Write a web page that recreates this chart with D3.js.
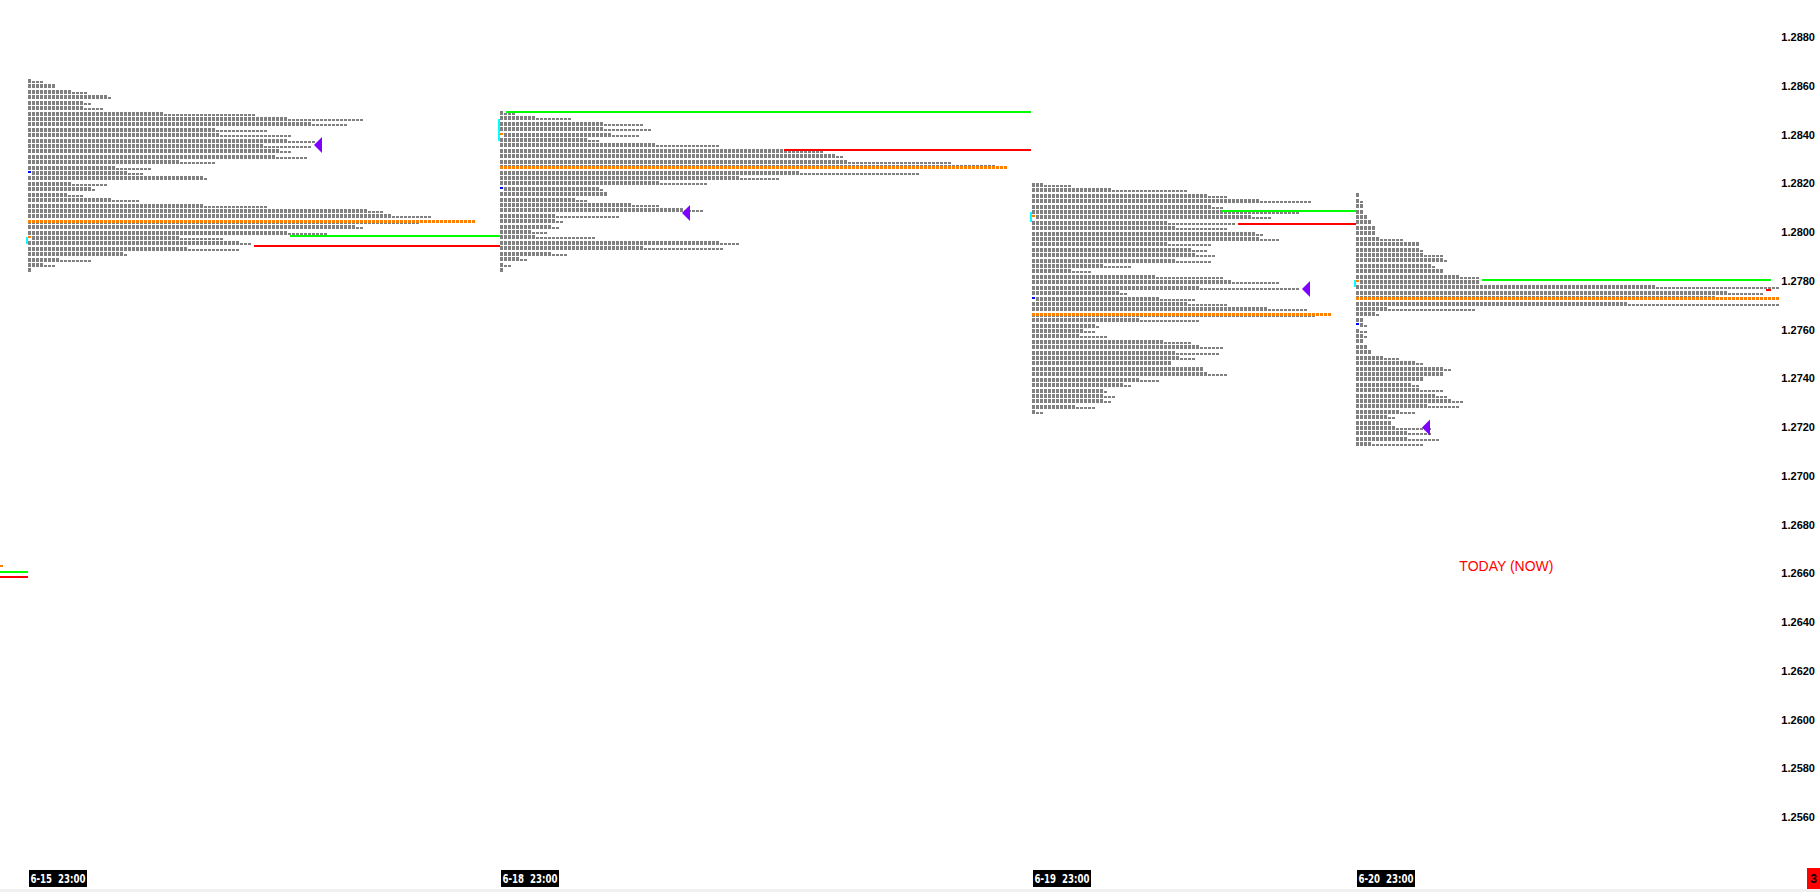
<!DOCTYPE html>
<html><head><meta charset="utf-8">
<script src="https://cdn.jsdelivr.net/npm/d3@7"></script>
<style>html,body{margin:0;padding:0;background:#fff;overflow:hidden}</style>
</head><body>
<svg id="c" width="1820" height="892"></svg>
<script>
// ---------------- DATA ----------------
const priceTicks = [1.2880,1.2860,1.2840,1.2820,1.2800,1.2780,1.2760,1.2740,1.2720,1.2700,1.2680,1.2660,1.2640,1.2620,1.2600,1.2580,1.2560];
const sessionLabels = ["6-15  23:00","6-18  23:00","6-19  23:00","6-20  23:00"];
const sessionStartCol = [7, 125, 258, 339];
const profileTop = [1.28620, 1.28489, 1.28194, 1.28151];
const rowSize = 0.000222;

const p1Full = [1,7,11,20,14,14,34,65,71,47,48,65,59,63,62,38,22,25,44,11,16,10,21,44,85,91,98,82,65,38,53,40,24,8,4,1];
const p1Thin = [3,0,4,1,2,5,23,19,9,13,18,7,12,3,8,9,9,4,1,9,1,4,7,16,4,10,0,2,10,11,3,13,1,8,3,0];
const p2Full = [1,9,26,26,28,22,39,71,84,87,124,75,60,40,25,27,19,33,46,14,14,13,8,9,55,36,13,5,1,1];
const p2Thin = [3,9,10,12,7,3,16,10,2,26,0,30,10,12,1,0,3,7,5,16,2,2,4,15,5,20,4,2,2,0];
const p3Full = [3,20,44,57,45,58,55,34,36,56,57,34,40,41,36,18,10,31,50,42,22,32,39,59,71,27,16,13,12,33,42,36,37,35,43,44,27,23,18,18,18,11,1];
const p3Thin = [7,19,5,13,3,9,5,17,13,2,5,11,4,5,9,7,5,17,12,25,2,9,10,10,0,15,1,3,7,7,6,11,4,0,0,5,5,2,1,3,2,5,2];
const p4Full = [1,1,2,2,3,4,5,5,6,16,16,17,22,19,22,26,31,75,93,90,68,8,5,2,2,1,2,2,3,4,7,15,22,22,17,14,16,20,24,18,11,8,9,10,13,13,4];
const p4Thin = [0,1,0,0,0,0,0,0,6,0,1,5,1,1,0,5,0,31,9,0,38,22,1,0,1,2,1,0,0,0,4,2,2,0,0,2,6,3,3,8,4,2,0,9,6,8,13];

const pocRow = [26, 10, 24, 19];            // 0-based row index of point of control
const pocEndCol = [118.75, 251.75, 332.75, 444.75];
const openMarkRow = [29, 4, 6, 16];        // orange marker rows
const closeMarkRow = [17, 14, 21, 24];     // blue marker rows
const openRangeHigh = [1.27980, 1.28464, 1.28083, 1.27804];
const openRangeLow  = [1.27951, 1.28374, 1.28042, 1.27775];

const greenPrice = [1.26606, 1.27984, 1.28494, 1.28089, 1.27805];
const greenStart = [0, 72.5, 126.5, 305.5, 370.5];
const greenEnd   = [7, 125, 257.75, 339, 442.75];
const redPrice = [1.26586, 1.27943, 1.28337, 1.28032, 1.27764];
const redStart = [0, 63.5, 196, 309.5, 441.5];
const redEnd   = [7, 125, 257.75, 339, 442.75];
const priorPocPrice = 1.26630, priorPocStart = 0, priorPocEnd = 0.75;

const triPrice = [1.28358, 1.28079, 1.27767, 1.27199];
const triCol = [78.5, 170.5, 325.5, 355.5];

const todayText = "TODAY (NOW)";
const todayPrice = 1.26630, todayCol = 376.6;
const cornerLabel = "3";

// ---------------- DRAW ----------------
const profilesFull = [p1Full,p2Full,p3Full,p4Full];
const profilesThin = [p1Thin,p2Thin,p3Thin,p4Thin];

const x = d3.scaleLinear().domain([0,455]).range([0,1820]);
const y = d3.scaleLinear().domain([1.2880,1.2560]).range([37.2,817.2]);
const svg = d3.select('#c');
const g = svg.append('g').attr('shape-rendering','crispEdges');

const GRAY = '#808080', ORANGE = '#ff8000', GREEN = '#00ff00', RED = '#ff0000', PURPLE = '#8000ff', CYAN = '#00ffff', BLUE = '#0000ff';

profilesFull.forEach((full, k) => {
  const thin = profilesThin[k];
  const start = sessionStartCol[k];
  const blocks = [];
  full.forEach((f, i) => {
    const price = profileTop[k] - i*rowSize;
    const skipFirst = (i === openMarkRow[k] || i === closeMarkRow[k]);
    for (let j = 0; j < f; j++) {
      if (j === 0 && skipFirst) continue;
      blocks.push({col: start + j, price, type: 'full'});
    }
    for (let j = f; j < f + thin[i]; j++) blocks.push({col: start + j, price, type: 'thin'});
  });
  g.append('g').selectAll('rect').data(blocks).join('rect')
    .attr('x', d => Math.round(x(d.col)))
    .attr('y', d => d.type === 'full' ? Math.round(y(d.price) - 2) : Math.round(y(d.price)))
    .attr('width', 3)
    .attr('height', d => d.type === 'full' ? 4 : 2)
    .attr('fill', GRAY);

  // POC dashed orange
  const pp = profileTop[k] - pocRow[k]*rowSize;
  const cols = d3.range(start, pocEndCol[k], 1);
  g.append('g').selectAll('rect').data(cols).join('rect')
    .attr('x', c => Math.round(x(c))).attr('y', Math.round(y(pp) - 1.5))
    .attr('width', 3).attr('height', 3).attr('fill', ORANGE);

  // open/close markers
  const om = profileTop[k] - openMarkRow[k]*rowSize;
  g.append('rect').attr('x', Math.round(x(start))).attr('y', Math.round(y(om) - 2))
    .attr('width', 3).attr('height', 2).attr('fill', ORANGE);
  const cm = profileTop[k] - closeMarkRow[k]*rowSize;
  g.append('rect').attr('x', Math.round(x(start))).attr('y', Math.round(y(cm) - 2))
    .attr('width', 3).attr('height', 2).attr('fill', BLUE);
  // opening range
  g.append('rect').attr('x', Math.round(x(start)) - 2).attr('y', Math.round(y(openRangeHigh[k])))
    .attr('width', 2).attr('height', Math.max(3, Math.round(y(openRangeLow[k]) - y(openRangeHigh[k]))))
    .attr('fill', CYAN);
});

// prior POC
g.append('rect').attr('x', x(priorPocStart)).attr('y', Math.round(y(priorPocPrice) - 1))
  .attr('width', x(priorPocEnd) - x(priorPocStart)).attr('height', 2).attr('fill', ORANGE);

// green & red level lines
greenPrice.forEach((p, i) => {
  g.append('rect').attr('x', x(greenStart[i])).attr('y', Math.round(y(p) - 1))
    .attr('width', x(greenEnd[i]) - x(greenStart[i])).attr('height', 2).attr('fill', GREEN);
});
redPrice.forEach((p, i) => {
  g.append('rect').attr('x', x(redStart[i])).attr('y', Math.round(y(p) - 1))
    .attr('width', x(redEnd[i]) - x(redStart[i])).attr('height', 2).attr('fill', RED);
});

// purple triangles
svg.append('g').selectAll('path').data(triPrice.map((p,i)=>({p, c: triCol[i]}))).join('path')
  .attr('d', d => { const tx = x(d.c), ty = y(d.p); return `M${tx},${ty}L${tx+8},${ty-8}L${tx+8},${ty+8}Z`; })
  .attr('fill', PURPLE);

// y axis labels
svg.append('g').selectAll('text').data(priceTicks).join('text')
  .attr('x', 1815).attr('y', d => y(d)).attr('dy', '0.35em')
  .attr('text-anchor', 'end')
  .attr('font-family', '"Liberation Sans", Arial, sans-serif')
  .attr('font-weight', 'bold').attr('font-size', 11).attr('fill', '#000')
  .text(d => d.toFixed(4));

// x labels
sessionLabels.forEach((lab, i) => {
  const gx = svg.append('g');
  const bx = x(sessionStartCol[i]) + 1;
  gx.append('rect').attr('x', bx).attr('y', 870).attr('width', 58).attr('height', 17).attr('fill', '#000');
  gx.append('text').attr('x', bx + 1.5).attr('y', 883)
    .attr('font-family', '"DejaVu Sans Condensed", "Liberation Sans Narrow", sans-serif')
    .attr('font-weight', 'bold').attr('font-size', 12).attr('fill', '#fff')
    .attr('textLength', 55).attr('lengthAdjust', 'spacingAndGlyphs')
    .style('white-space', 'pre').text(lab);
});

// TODAY text
svg.append('text').attr('x', x(todayCol)).attr('y', y(todayPrice)).attr('dy', '0.35em')
  .attr('text-anchor', 'middle').attr('font-family', 'Arial, "Liberation Sans", sans-serif')
  .attr('font-size', 14).attr('fill', RED).text(todayText);

// bottom band & corner box
svg.append('rect').attr('x', 0).attr('y', 889).attr('width', 1820).attr('height', 3).attr('fill', '#f0f0f0');
svg.append('rect').attr('x', 1807).attr('y', 868).attr('width', 13).attr('height', 21).attr('fill', RED);
svg.append('text').attr('x', 1813.5).attr('y', 883).attr('text-anchor', 'middle')
  .attr('font-family', '"Liberation Sans", Arial, sans-serif').attr('font-weight', 'bold')
  .attr('font-size', 12).attr('fill', '#000').text(cornerLabel);
</script>
</body></html>
